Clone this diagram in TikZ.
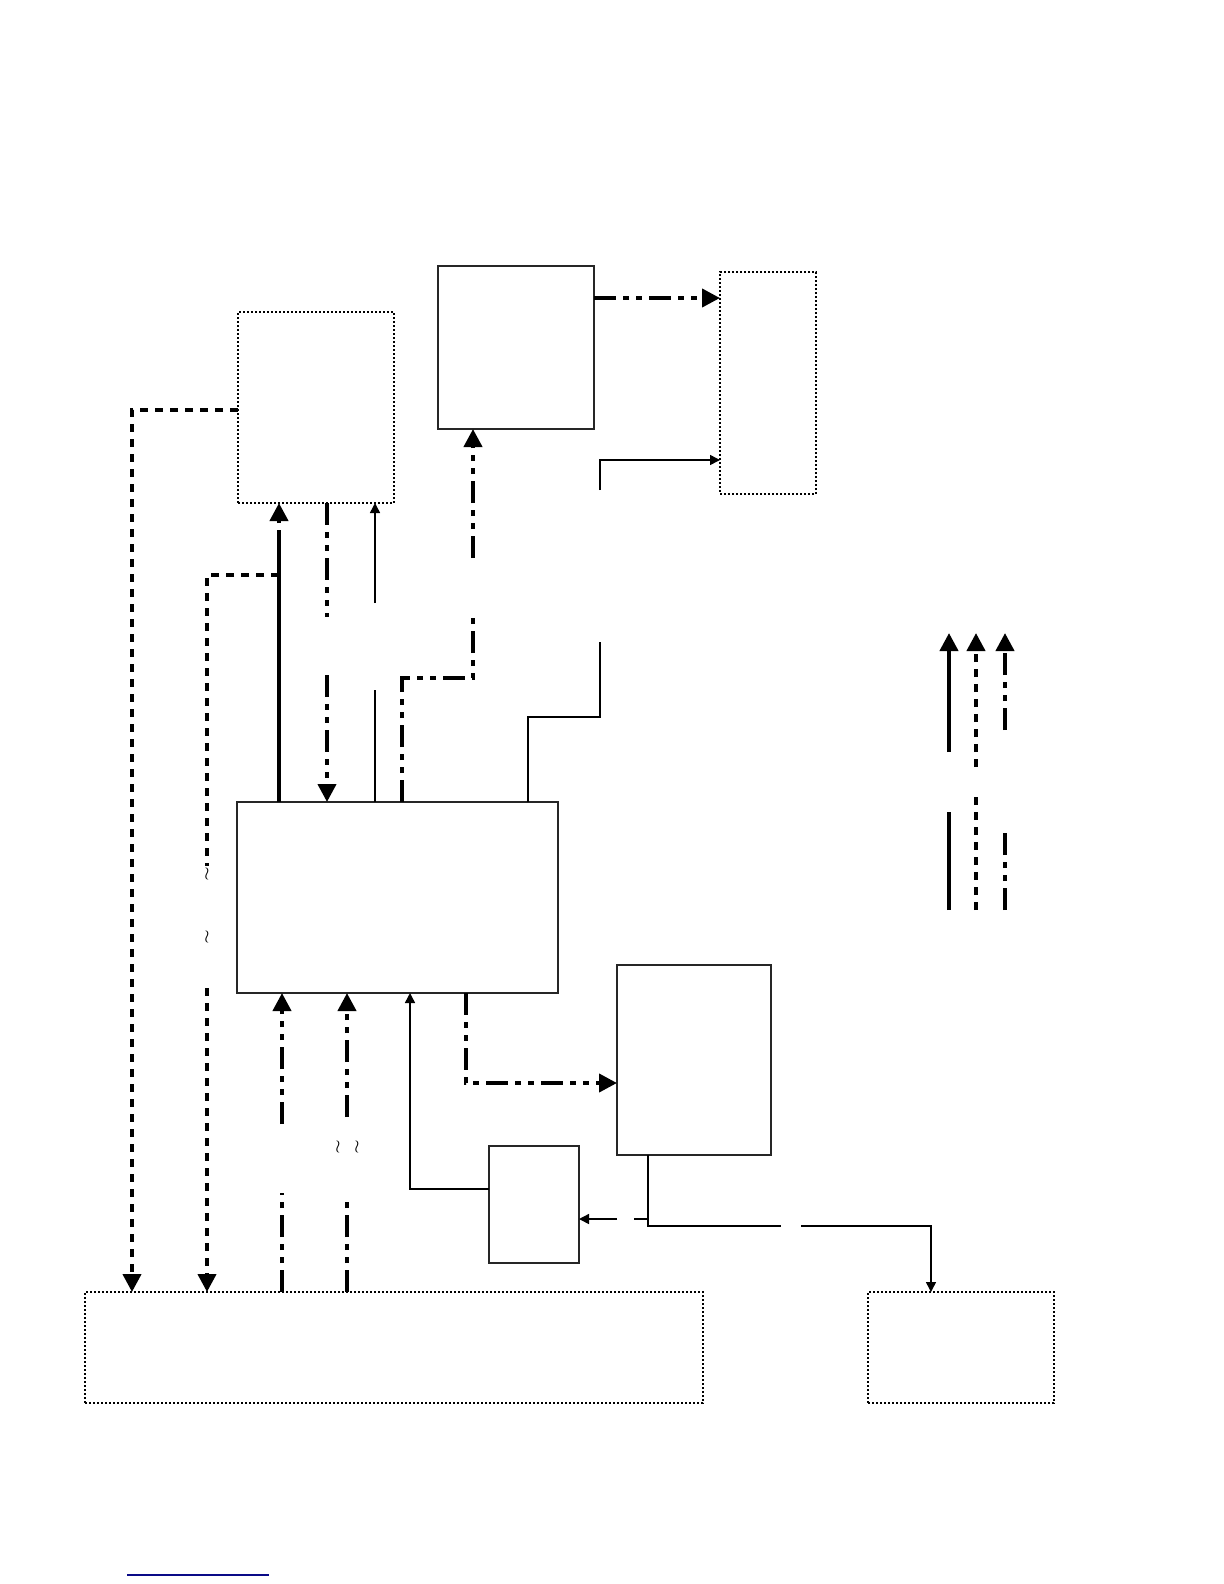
\documentclass[tikz,border=0pt]{standalone}
\usetikzlibrary{arrows.meta,positioning,fit}
\definecolor{rulenavy}{RGB}{10,10,135}

\begin{document}
\begin{tikzpicture}[x=0.5bp,y=-0.5bp,
  every node/.style={inner sep=0pt,outer sep=0pt},
  solidbox/.style={draw=black!85,line width=0.75bp},
  dotbox/.style={draw=black,line width=0.6bp,dash pattern=on 1bp off 1bp},
  bigtip/.style={-{Triangle[length=9bp,width=9bp]}},
  solidflow/.style={line width=2bp},
  dashflow/.style={line width=2bp,dash pattern=on 4bp off 3.5bp},
  ddflow/.style={line width=2bp,dash pattern=on 11bp off 3.5bp on 3bp off 3.5bp on 3bp off 3.5bp},
  sigline/.style={line width=0.75bp},
  signal/.style={sigline,-{Triangle[length=5bp,width=5bp]}},
  brk/.style={font=\small}]
\useasboundingbox (0,0) rectangle (1224,1584);
\node[dotbox,fit={(238,312) (394,503)}] (cfg) {};
\node[solidbox,fit={(438,266) (594,429)}] (gen) {};
\node[dotbox,fit={(720,272) (816,494)}] (disp) {};
\node[solidbox,fit={(237,802) (558,993)}] (core) {};
\node[solidbox,fit={(617,965) (771,1155)}] (drv) {};
\node[solidbox,fit={(489,1146) (579,1263)}] (sen) {};
\node[dotbox,fit={(85,1292) (703,1403)}] (bus) {};
\node[dotbox,fit={(868,1292) (1054,1403)}] (ext) {};
\node[brk] (w1) at (207,874) {$\wr$};
\node[brk] (w2) at (207,937) {$\wr$};
\node[brk] (w3) at (338,1147) {$\wr$};
\node[brk] (w4) at (357,1147) {$\wr$};
\draw[dashflow,bigtip] (cfg.west |- 0,410) -| (132,0 |- bus.north);
\draw[dashflow] (279,575) -| (w1.north);
\draw[dashflow,bigtip] (w2.south |- 0,988) -- (w2.south |- bus.north);
\draw[solidflow] (279,0 |- core.north) -- (279,552);
\draw[ddflow,bigtip] (279,552) -- (279,0 |- cfg.south);
\draw[ddflow] (327,0 |- cfg.south) -- (327,617);
\draw[ddflow,bigtip] (327,675) -- (327,0 |- core.north);
\draw[sigline] (375,0 |- core.north) -- (375,690);
\draw[signal] (375,603) -- (375,0 |- cfg.south);
\draw[ddflow] (402,0 |- core.north) |- (473,678) -- (473,618);
\draw[ddflow,bigtip] (473,558) -- (473,0 |- gen.south);
\draw[sigline] (528,0 |- core.north) |- (600,717) -- (600,642);
\draw[signal] (600,490) |- (disp.west |- 0,460);
\draw[ddflow,bigtip] (gen.east |- 0,298) -- (disp.west |- 0,298);
\draw[ddflow] (282,0 |- bus.north) -- (282,1193);
\draw[ddflow,bigtip] (282,1124) -- (282,0 |- core.south);
\draw[ddflow] (347,0 |- bus.north) -- (347,1198);
\draw[ddflow,bigtip] (347,1117) -- (347,0 |- core.south);
\draw[signal] (sen.west |- 0,1189) -| (410,0 |- core.south);
\draw[ddflow,bigtip] (466,0 |- core.south) |- (drv.west |- 0,1083);
\draw[sigline] (648,0 |- drv.south) |- (781,1226);
\draw[signal] (801,1226) -| (931,0 |- ext.north);
\draw[sigline] (648,1219) -- (634,1219);
\draw[signal] (617,1219) -- (sen.east |- 0,1219);
\draw[solidflow,bigtip] (949,752) -- (949,633);
\draw[solidflow] (949,910) -- (949,812);
\draw[dashflow,bigtip] (976,767) -- (976,633);
\draw[dashflow] (976,910) -- (976,793);
\draw[ddflow,bigtip] (1005,730) -- (1005,633);
\draw[ddflow] (1005,910) -- (1005,827);
\draw[rulenavy,line width=1bp] (127,1575) -- (269,1575);
\end{tikzpicture}
\end{document}
